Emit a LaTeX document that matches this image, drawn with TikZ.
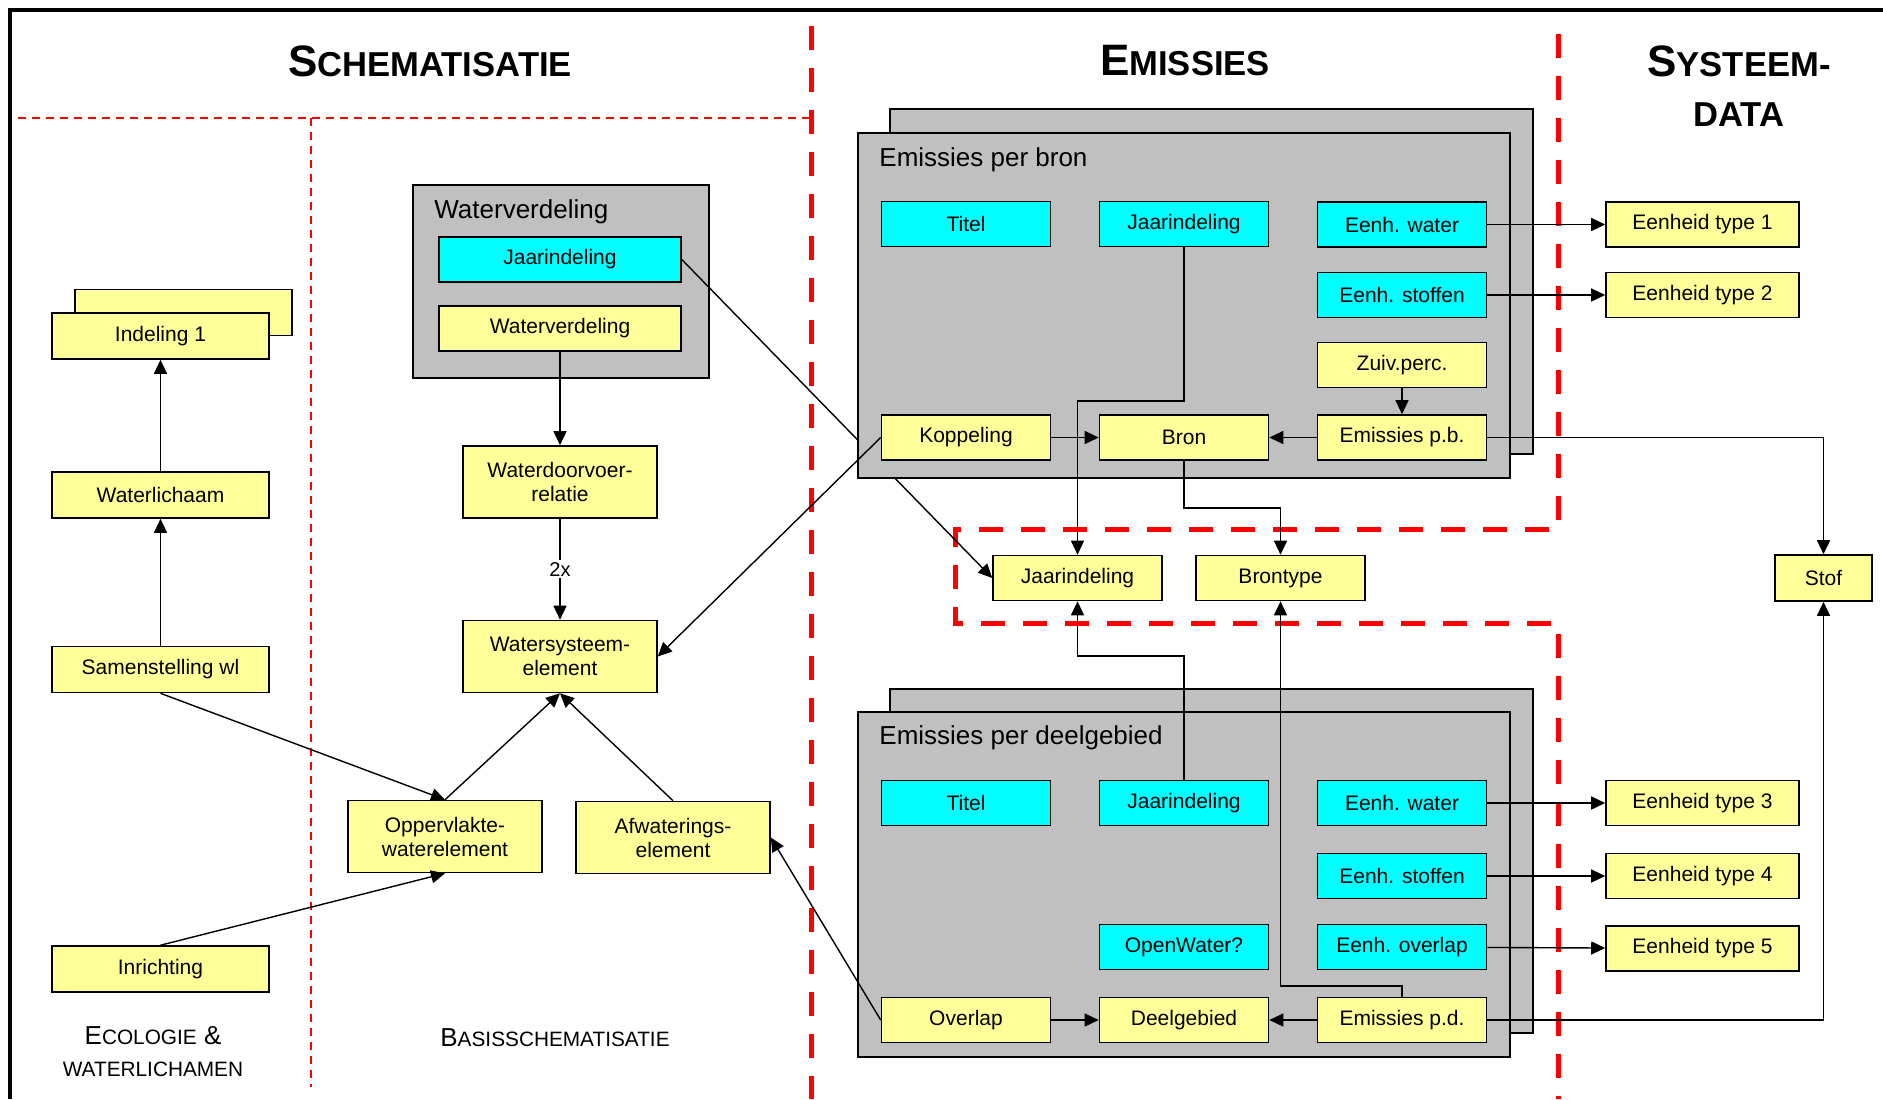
\documentclass[tikz,border=0pt]{standalone}
\usepackage{fontspec}
\setmainfont{Liberation Sans}
\usepackage{tikz}
\usetikzlibrary{arrows.meta, positioning, calc}
\definecolor{geel}{HTML}{FFFF99}
\definecolor{cyaan}{HTML}{00FFFF}
\definecolor{grijs}{HTML}{C0C0C0}
\pgfdeclarelayer{background}
\pgfsetlayers{background,main}
\tikzstyle{entity} = [rectangle, draw, line width=0.8pt, fill=geel, minimum width=84.5pt, minimum height=22.5pt, inner sep=1pt, align=center, font=\fontsize{10.5}{12}\selectfont]
\tikzstyle{attrib} = [entity, fill=cyaan]
\tikzstyle{wide} = [minimum width=108.5pt, minimum height=23pt]
\tikzstyle{twoline} = [minimum width=97pt, minimum height=36pt]
\tikzstyle{group} = [draw, line width=0.8pt, fill=grijs]
\tikzstyle{grouplabel} = [anchor=west, inner sep=0pt, font=\fontsize{13}{15}\selectfont]
\tikzstyle{arrow} = [-{Triangle[length=7pt, width=6.5pt]}, line width=0.7pt]
\tikzstyle{connector} = [line width=0.7pt]
\tikzstyle{section} = [font=\fontsize{22}{25}\selectfont\bfseries, align=center]
\tikzstyle{subsection} = [font=\fontsize{13}{16}\selectfont, align=center]
\tikzstyle{border_thick} = [red, line width=2.5pt, dash pattern=on 12pt off 9pt]
\tikzstyle{border_thin} = [red, line width=0.8pt, dash pattern=on 4pt off 3pt]

\begin{document}
\begin{tikzpicture}[x=0.5pt, y=-0.5pt]
            \useasboundingbox (0,0) rectangle (1883,1099);
            \draw[line width=2pt] (10,1099) |- (1883,10);

            % The section titles
            \node[section] (t_schem) at (430,61)
                {S{\fontsize{17.3}{20}\selectfont CHEMATISATIE}};
            \node[section] (t_emis) at (1185,61)
                {E{\fontsize{17.3}{20}\selectfont MISSIES}};
            \node[section] (t_sys) at (1739,86)
                {S{\fontsize{17.3}{20}\selectfont YSTEEM-}\\{\fontsize{17.3}{20}\selectfont DATA}};
            \node[subsection] (t_eco) at (153,1052)
                {E{\fontsize{10.4}{12}\selectfont COLOGIE} \&\\{\fontsize{10.4}{12}\selectfont WATERLICHAMEN}};
            \node[subsection] (t_basis) at (555,1038)
                {B{\fontsize{10.4}{12}\selectfont ASISSCHEMATISATIE}};

            % Ecologie en waterlichamen
            \node[entity, wide] (indeling_back) at (183.5,312.5) {};
            \node[entity, wide] (indeling) at (160.5,336) {Indeling 1};
            \node[entity, wide] (waterlichaam) at (160.5,495) {Waterlichaam};
            \node[entity, wide] (samenstelling) at (160.5,669.5) {Samenstelling wl};
            \node[entity, wide] (inrichting) at (160.5,969) {Inrichting};

            % Basisschematisatie
            \node[grouplabel] (l_wv) at (434,212) {Waterverdeling};
            \node[attrib, minimum width=121pt] (wv_jaar) at (560,259.5) {Jaarindeling};
            \node[entity, minimum width=121pt] (wv_wv) at (560,328.5) {Waterverdeling};
            \node[entity, twoline] (doorvoer) at (560,482) {Waterdoorvoer-\\relatie};
            \node[entity, twoline] (watersys) at (560,656.5) {Watersysteem-\\element};
            \node[entity, twoline] (opp) at (445,836.5) {Oppervlakte-\\waterelement};
            \node[entity, twoline] (afw) at (673,837.5) {Afwaterings-\\element};

            % Emissies per bron
            \node[grouplabel] (l_bron) at (879,160) {Emissies per bron};
            \node[attrib] (b_titel) at (966,224) {Titel};
            \node[attrib] (b_jaar) at (1184,224) {Jaarindeling};
            \node[attrib] (b_water) at (1402,224.5) {Eenh. water};
            \node[attrib] (b_stof) at (1402,295) {Eenh. stoffen};
            \node[entity] (b_zuiv) at (1402,365) {Zuiv.perc.};
            \node[entity] (b_kop) at (966,437.5) {Koppeling};
            \node[entity] (b_bron) at (1184,437.5) {Bron};
            \node[entity] (b_emis) at (1402,437.5) {Emissies p.b.};

            % Gedeelde tabellen
            \node[entity] (m_jaar) at (1077.5,578) {Jaarindeling};
            \node[entity] (m_bron) at (1280.5,578) {Brontype};

            % Emissies per deelgebied
            \node[grouplabel] (l_deel) at (879,738) {Emissies per deelgebied};
            \node[attrib] (d_titel) at (966,803) {Titel};
            \node[attrib] (d_jaar) at (1184,803) {Jaarindeling};
            \node[attrib] (d_water) at (1402,803) {Eenh. water};
            \node[attrib] (d_stof) at (1402,876) {Eenh. stoffen};
            \node[attrib] (d_open) at (1184,947) {OpenWater?};
            \node[attrib] (d_overlap) at (1402,947) {Eenh. overlap};
            \node[entity] (d_ovl) at (966,1020) {Overlap};
            \node[entity] (d_deel) at (1184,1020) {Deelgebied};
            \node[entity] (d_emis) at (1402,1020) {Emissies p.d.};

            % Systeemdata
            \node[entity, minimum width=96.5pt] (type1) at (1702.5,224.5) {Eenheid type 1};
            \node[entity, minimum width=96.5pt] (type2) at (1702.5,295) {Eenheid type 2};
            \node[entity, minimum width=96.5pt] (type3) at (1702.5,803) {Eenheid type 3};
            \node[entity, minimum width=96.5pt] (type4) at (1702.5,876) {Eenheid type 4};
            \node[entity, minimum width=96.5pt] (type5) at (1702.5,948.5) {Eenheid type 5};
            \node[entity, minimum width=48.5pt, minimum height=23pt] (stof) at (1823.5,578) {Stof};

            % Borders and groups behind the boxes
            \begin{pgfonlayer}{background}
                \draw[border_thin] (18,118) -- (811,118);
                \draw[border_thin] (311,118) -- (311,1087);
                \draw[border_thick] (811,26) -- (811,1099);
                \draw[border_thick] (1558,34) -- (1558,529) -- (955,529) -- (955,623)
                    -- (1558,623) -- (1558,1099);
                \draw[group] (413,185) rectangle (709,378);
                \draw[arrow] (wv_jaar.east) -- (m_jaar.west);
                \draw[group] (890,109) rectangle (1533,454);
                \draw[group] (858,133) rectangle (1510,478);
                \draw[group] (890,689) rectangle (1533,1033);
                \draw[group] (858,712) rectangle (1510,1057);
            \end{pgfonlayer}

            % The connections
            \draw[arrow] (waterlichaam) -- (indeling);
            \draw[arrow] (samenstelling) -- (waterlichaam);
            \draw[arrow] (samenstelling.south) -- (opp.north);
            \draw[arrow] (inrichting.north) -- (opp.south);
            \draw[arrow] (wv_wv) -- (doorvoer);
            \draw[arrow] (doorvoer) -- node[fill=white, inner sep=1pt, font=\fontsize{10}{12}\selectfont] {2x} (watersys);
            \draw[arrow] (opp.north) -- (watersys.south);
            \draw[arrow] (afw.north) -- (watersys.south);
            \draw[arrow] (b_kop.west) -- (watersys.east);
            \draw[arrow] (d_ovl.west) -- (afw.east);

            \draw[arrow] (b_kop) -- (b_bron);
            \draw[arrow] (b_emis) -- (b_bron);
            \draw[arrow] (b_zuiv) -- (b_emis);
            \draw[arrow] (b_jaar.south) -- (b_jaar.south |- 0,401) -| (m_jaar.north);
            \draw[arrow] (b_bron.south) -- (b_bron.south |- 0,508) -| (m_bron.north);
            \draw[arrow] (d_jaar.north) -- (d_jaar.north |- 0,656) -| (m_jaar.south);
            \draw[arrow] (d_emis.north) -- (d_emis.north |- 0,986) -| (m_bron.south);
            \draw[arrow] (b_emis.east) -| (stof.north);
            \draw[arrow] (d_emis.east) -| (stof.south);

            \draw[arrow] (d_ovl) -- (d_deel);
            \draw[arrow] (d_emis) -- (d_deel);

            \draw[arrow] (b_water) -- (type1);
            \draw[arrow] (b_stof) -- (type2);
            \draw[arrow] (d_water) -- (type3);
            \draw[arrow] (d_stof) -- (type4);
            \draw[arrow] (d_overlap) -- (type5);
        \end{tikzpicture}
\end{document}
